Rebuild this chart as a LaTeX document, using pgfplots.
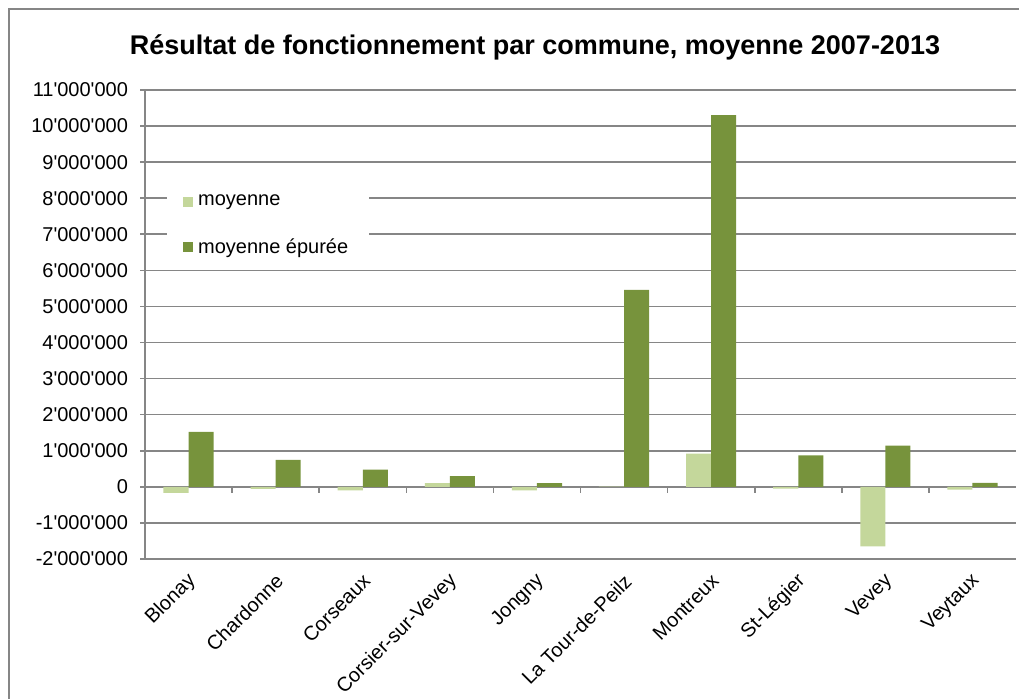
\documentclass[border=0pt]{standalone}
\usepackage{pgfplots}
\pgfplotsset{compat=1.18}
\usepackage{fontspec}
\setmainfont{Liberation Sans}

\definecolor{clair}{RGB}{196,215,155}
\definecolor{fonce}{RGB}{119,147,60}
\definecolor{grille}{RGB}{134,134,134}

\begin{document}
\begin{tikzpicture}
\useasboundingbox (0,0) rectangle (509.5pt,349.5pt);
\draw[grille, line width=0.8pt] (4.5pt,0) -- (4.5pt,345pt) -- (509.5pt,345pt);
\node[font=\fontsize{13.5}{16}\selectfont\bfseries] at (267.5pt,326pt)
  {Résultat de fonctionnement par commune, moyenne 2007-2013};

\begin{axis}[
at={(72.5pt,70pt)}, anchor=south west,
scale only axis,
width=435.5pt, height=234.5pt,
ybar=0pt, bar width=0.288,
xmin=-0.5, xmax=9.5,
ymin=-2000000, ymax=11000000,
xtick={0,1,2,3,4,5,6,7,8,9},
xticklabels={Blonay,Chardonne,Corseaux,Corsier-sur-Vevey,Jongny,La Tour-de-Peilz,Montreux,St-Légier,Vevey,Veytaux},
ytick={-2000000,-1000000,0,1000000,2000000,3000000,4000000,5000000,6000000,7000000,8000000,9000000,10000000,11000000},
axis y line*=left, axis x line*=bottom,
axis line style={grille, line width=0.8pt, -},
ymajorgrids, grid style={grille, line width=0.8pt},
major x tick style={draw=none},
y tick style={grille, line width=0.8pt},
tick align=outside, major tick length=2.5pt,
scaled y ticks=false,
yticklabel style={font=\fontsize{10}{12}\selectfont, xshift=-2.5pt, /pgf/number format/.cd, fixed, precision=0, 1000 sep={\textquotesingle}, assume math mode=true},
xticklabel style={font=\fontsize{10}{12}\selectfont, rotate=45, anchor=east, xshift=0pt, yshift=-6.3pt},
legend cell align=left,
legend image code/.code={\fill[#1] (0pt,-2.5pt) rectangle (5pt,2.5pt);},
legend style={at={(0.025,0.805)}, anchor=north west, draw=none, fill=white,
  font=\fontsize{10}{12}\selectfont, row sep=10pt, inner xsep=8pt, inner ysep=4pt,
  nodes={inner sep=2.5pt}},
]
\addplot[fill=clair, draw=none] coordinates {
(0,-170000) (1,-60000) (2,-100000) (3,100000) (4,-100000)
(5,5000) (6,920000) (7,-50000) (8,-1650000) (9,-80000)
};
\addlegendentry{moyenne}
\addplot[fill=fonce, draw=none] coordinates {
(0,1520000) (1,750000) (2,480000) (3,300000) (4,100000)
(5,5460000) (6,10300000) (7,870000) (8,1140000) (9,110000)
};
\addlegendentry{moyenne épurée}
\draw[grille, line width=0.8pt]
  (axis cs:0.5,0) -- ([yshift=-3pt]axis cs:0.5,0)
  (axis cs:1.5,0) -- ([yshift=-3pt]axis cs:1.5,0)
  (axis cs:2.5,0) -- ([yshift=-3pt]axis cs:2.5,0)
  (axis cs:3.5,0) -- ([yshift=-3pt]axis cs:3.5,0)
  (axis cs:4.5,0) -- ([yshift=-3pt]axis cs:4.5,0)
  (axis cs:5.5,0) -- ([yshift=-3pt]axis cs:5.5,0)
  (axis cs:6.5,0) -- ([yshift=-3pt]axis cs:6.5,0)
  (axis cs:7.5,0) -- ([yshift=-3pt]axis cs:7.5,0)
  (axis cs:8.5,0) -- ([yshift=-3pt]axis cs:8.5,0);
\end{axis}
\end{tikzpicture}
\end{document}
